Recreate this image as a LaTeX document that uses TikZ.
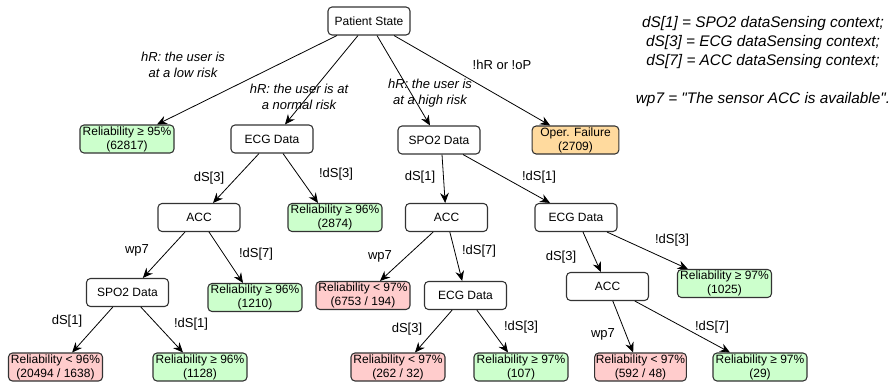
\documentclass[tikz,border=0pt]{standalone}
\usepackage{fontspec}
\setmainfont{Liberation Sans}
\usetikzlibrary{arrows.meta}
\definecolor{okgreen}{HTML}{CCFFCC}
\definecolor{lowred}{HTML}{FFCCCC}
\definecolor{failorange}{HTML}{FFDA9E}
\definecolor{edgegray}{HTML}{333333}
\tikzset{
  >={Stealth[length=7.5pt,width=6.5pt,inset=2.5pt]},
  {box/.style}={rectangle, rounded corners=3pt, draw=edgegray, line width=0.8pt,
                minimum height=21pt, inner sep=1pt, align=center,
                font=\fontsize{9}{10.5}\selectfont},
  {test/.style}={box, fill=white, minimum width=61.5pt},
  {good/.style}={box, fill=okgreen, minimum width=70.5pt},
  {bad/.style}={box, fill=lowred, minimum width=70.5pt},
  {fail/.style}={box, fill=failorange, minimum width=65pt},
  {edge/.style}={->, draw=black, line width=0.6pt},
  {cond/.style}={font=\fontsize{9.75}{12}\selectfont, inner sep=0pt},
  {risk/.style}={cond, font=\fontsize{9.75}{12}\selectfont\itshape, align=center},
  {legend/.style}={font=\fontsize{11.5}{14.25}\selectfont\itshape, align=center, inner sep=0pt},
}

\begin{document}
\begin{tikzpicture}[x=0.75pt,y=-0.75pt]
\useasboundingbox (0,0) rectangle (891,385);

% level 0
\node[test] (ps) at (369,21) {Patient State};
% level 1
\node[good] (r95) at (127,139) {Reliability ≥ 95\%\\(62817)};
\node[test] (ecgA) at (272,139) {ECG Data};
\node[test] (spoA) at (439,140) {SPO2 Data};
\node[fail] (fail) at (575.5,140) {Oper. Failure\\(2709)};
% level 2
\node[test] (accA) at (199,217.5) {ACC};
\node[good] (r96a) at (335,217.5) {Reliability ≥ 96\%\\(2874)};
\node[test] (accB) at (446.5,217.5) {ACC};
\node[test] (ecgB) at (576,217.5) {ECG Data};
% level 3
\node[test] (spoB) at (127.5,292.5) {SPO2 Data};
\node[good] (r96b) at (255,297.5) {Reliability ≥ 96\%\\(1210)};
\node[bad] (r97a) at (363,295.5) {Reliability < 97\%\\(6753 / 194)};
\node[test] (ecgC) at (465.5,295.5) {ECG Data};
\node[test] (accC) at (607.5,286.5) {ACC};
\node[good] (r97b) at (724.5,283.5) {Reliability ≥ 97\%\\(1025)};
% leaves
\node[bad] (r96c) at (55.5,367) {Reliability < 96\%\\(20494 / 1638)};
\node[good] (r96d) at (200,367) {Reliability ≥ 96\%\\(1128)};
\node[bad] (r97c) at (398,367) {Reliability < 97\%\\(262 / 32)};
\node[good] (r97d) at (521,367) {Reliability ≥ 97\%\\(107)};
\node[bad, minimum width=65pt] (r97e) at (640.5,367) {Reliability < 97\%\\(592 / 48)};
\node[good] (r97f) at (760,367) {Reliability ≥ 97\%\\(29)};

% connectors
\draw[edge] ([xshift=-24pt]ps.south) -- ([xshift=22.5pt]r95.north);
\draw[edge] ([xshift=-8.25pt]ps.south) -- ([xshift=9.75pt]ecgA.north);
\draw[edge] ([xshift=6pt]ps.south) -- ([xshift=-6.75pt]spoA.north);
\draw[edge] ([xshift=18.75pt]ps.south) -- ([xshift=-19pt]fail.north);
\draw[edge] ([xshift=-9.75pt]ecgA.south) -- ([xshift=10.5pt]accA.north);
\draw[edge] ([xshift=8.25pt]ecgA.south) -- ([xshift=-12.75pt]r96a.north);
\draw[edge] ([xshift=2.25pt]spoA.south) -- ([xshift=-1pt]accB.north);
\draw[edge] ([xshift=18pt]spoA.south) -- ([xshift=-19.5pt]ecgB.north);
\draw[edge] ([xshift=-10.5pt]accA.south) -- ([xshift=11.5pt]spoB.north);
\draw[edge] ([xshift=7.5pt]accA.south) -- ([xshift=-9pt]r96b.north);
\draw[edge] ([xshift=-11pt]spoB.south) -- ([xshift=12.5pt]r96c.north);
\draw[edge] ([xshift=10pt]spoB.south) -- ([xshift=-12.75pt]r96d.north);
\draw[edge] ([xshift=-10pt]accB.south) -- ([xshift=12.75pt]r97a.north);
\draw[edge] ([xshift=2.5pt]accB.south) -- ([xshift=-2.5pt]ecgC.north);
\draw[edge] ([xshift=-10pt]ecgC.south) -- ([xshift=12.75pt]r97c.north);
\draw[edge] ([xshift=8.5pt]ecgC.south) -- ([xshift=-9.75pt]r97d.north);
\draw[edge] ([xshift=5.25pt]ecgB.south) -- ([xshift=-5pt]accC.north);
\draw[edge] ([xshift=23.25pt]ecgB.south) -- ([xshift=-27.5pt]r97b.north);
\draw[edge] ([xshift=4pt]accC.south) -- ([xshift=-5.5pt]r97e.north);
\draw[edge] ([xshift=20.5pt]accC.south) -- ([xshift=-22.5pt]r97f.north);

% connector labels
\node[risk] (lowrisk) at (183,65) {hR: the user is\\at a low risk};
\node[risk] (normrisk) at (299,97) {hR: the user is at\\a normal risk};
\node[risk] (highrisk) at (430,93.5) {hR: the user is\\at a high risk};
\node[cond] (nothr) at (502,65) {!hR or !oP};
\node[cond] (lA) at (209,178) {dS[3]};
\node[cond] (lB) at (336,174) {!dS[3]};
\node[cond] (lC) at (420,177) {dS[1]};
\node[cond] (lD) at (539,177) {!dS[1]};
\node[cond] (lE) at (137,250) {wp7};
\node[cond] (lF) at (256,254) {!dS[7]};
\node[cond] (lG) at (67,321) {dS[1]};
\node[cond] (lH) at (191,324) {!dS[1]};
\node[cond] (lI) at (380,256) {wp7};
\node[cond] (lJ) at (479,251) {!dS[7]};
\node[cond] (lK) at (407,329) {dS[3]};
\node[cond] (lL) at (521,327) {!dS[3]};
\node[cond] (lM) at (561,257) {dS[3]};
\node[cond] (lN) at (672,240) {!dS[3]};
\node[cond] (lO) at (603,334) {wp7};
\node[cond] (lP) at (712,327) {!dS[7]};

% key
\node[legend] (key) at (763,43) {dS[1] = SPO2 dataSensing context;\\
  dS[3] = ECG dataSensing context;\\dS[7] = ACC dataSensing context;};
\node[legend] (wpnote) at (763,100) {wp7 = \textquotedbl The sensor ACC is available\textquotedbl.};
\end{tikzpicture}
\end{document}
